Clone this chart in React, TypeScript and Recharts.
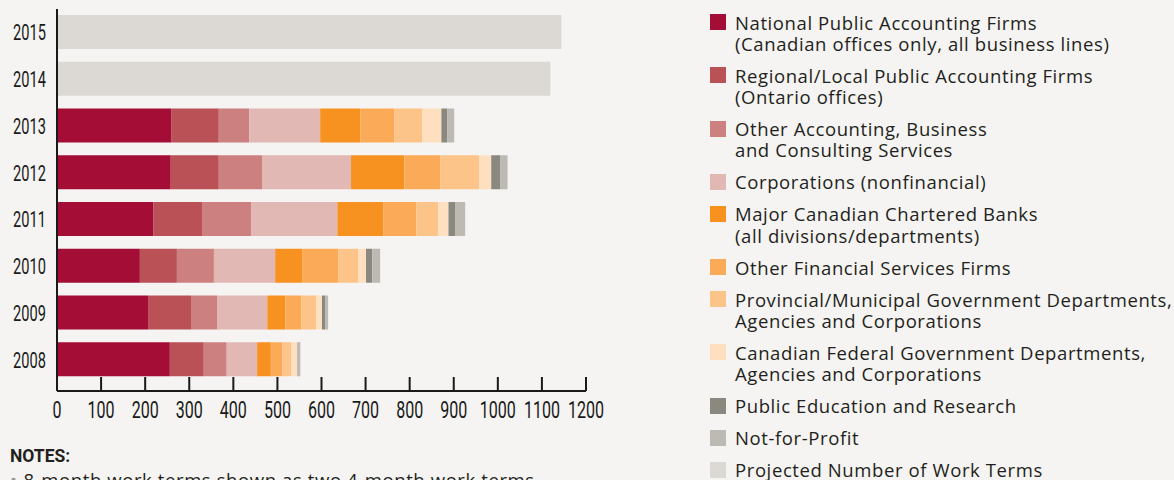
import { Bar, BarChart, XAxis, YAxis } from "recharts";

const years = ["2015", "2014", "2013", "2012", "2011", "2010", "2009", "2008"];
const national = [0, 0, 260, 258, 219, 188, 208, 256];
const regional = [0, 0, 107, 109, 110, 84, 96, 77];
const otherAccounting = [0, 0, 69, 98, 111, 84, 59, 52];
const corporations = [0, 0, 161, 202, 196, 139, 114, 69];
const majorBanks = [0, 0, 91, 121, 104, 61, 41, 31];
const otherFinancial = [0, 0, 77, 82, 75, 82, 36, 26];
const provincial = [0, 0, 64, 88, 50, 46, 34, 20];
const federal = [0, 0, 43, 27, 23, 17, 13, 14];
const publicEd = [0, 0, 13, 21, 16, 14, 7, 1];
const notForProfit = [0, 0, 16, 16, 22, 18, 7, 6];
const projected = [1144, 1119, 0, 0, 0, 0, 0, 0];

const xTicks = [0, 100, 200, 300, 400, 500, 600, 700, 800, 900, 1000, 1100, 1200];

const series = [
  { key: "national", values: national, color: "#a30d36", label: ["National Public Accounting Firms", "(Canadian offices only, all business lines)"] },
  { key: "regional", values: regional, color: "#ba5157", label: ["Regional/Local Public Accounting Firms", "(Ontario offices)"] },
  { key: "otherAccounting", values: otherAccounting, color: "#cc807f", label: ["Other Accounting, Business", "and Consulting Services"] },
  { key: "corporations", values: corporations, color: "#e2b8b4", label: ["Corporations (nonfinancial)"] },
  { key: "majorBanks", values: majorBanks, color: "#f79120", label: ["Major Canadian Chartered Banks", "(all divisions/departments)"] },
  { key: "otherFinancial", values: otherFinancial, color: "#fbab57", label: ["Other Financial Services Firms"] },
  { key: "provincial", values: provincial, color: "#fdc48a", label: ["Provincial/Municipal Government Departments,", "Agencies and Corporations"] },
  { key: "federal", values: federal, color: "#fee0c0", label: ["Canadian Federal Government Departments,", "Agencies and Corporations"] },
  { key: "publicEd", values: publicEd, color: "#8b8880", label: ["Public Education and Research"] },
  { key: "notForProfit", values: notForProfit, color: "#bdbab4", label: ["Not-for-Profit"] },
  { key: "projected", values: projected, color: "#dcd8d4", label: ["Projected Number of Work Terms"] },
];

const data = years.map((year, i) => {
  const row: Record<string, string | number> = { year };
  series.forEach((s) => {
    row[s.key] = s.values[i];
  });
  return row;
});

const ink = "#1a1a1a";
const labelFont = "Roboto";
const textFont = "'Open Sans', sans-serif";

function XTick({ x, y, payload }: any) {
  return (
    <g>
      <line x1={x} x2={x} y1={y - 14} y2={y} stroke={ink} strokeWidth={2} />
      <text
        transform={`translate(${x},${y + 27}) scale(0.65,1)`}
        textAnchor="middle"
        fontSize={24.7}
        fontFamily={labelFont}
        fill={ink}
      >
        {payload.value}
      </text>
    </g>
  );
}

function YTick({ x, y, payload }: any) {
  return (
    <text
      transform={`translate(${x - 11},${y + 8}) scale(0.65,1)`}
      textAnchor="end"
      fontSize={22.5}
      fontFamily={labelFont}
      fill={ink}
    >
      {payload.value}
    </text>
  );
}

function ChartLegend() {
  return (
    <div
      style={{
        position: "absolute",
        left: 710,
        top: 11.6,
        fontFamily: textFont,
        fontSize: 18.5,
        letterSpacing: 0.6,
        lineHeight: "21.3px",
        color: "#231f20",
        whiteSpace: "nowrap",
      }}
    >
      {series.map((s) => (
        <div key={s.key} style={{ display: "flex", marginBottom: 10.7 }}>
          <div
            style={{
              width: 16,
              height: 16,
              background: s.color,
              marginTop: 2.4,
              marginRight: 9,
              flexShrink: 0,
            }}
          />
          <div>
            {s.label.map((line) => (
              <div key={line}>{line}</div>
            ))}
          </div>
        </div>
      ))}
    </div>
  );
}

export default function App() {
  return (
    <div
      style={{
        position: "absolute",
        left: 0,
        top: 0,
        width: 1174,
        height: 480,
        background: "#f5f4f2",
        overflow: "hidden",
      }}
    >
      <div style={{ position: "absolute", left: 0, top: 0 }}>
        <BarChart
          width={630}
          height={440}
          data={data}
          layout="vertical"
          margin={{ top: 9, right: 44, bottom: 9, left: 0 }}
        >
          <XAxis
            type="number"
            domain={[0, 1200]}
            ticks={xTicks}
            interval={0}
            height={40}
            tickSize={0}
            tickMargin={0}
            tickLine={false}
            axisLine={{ stroke: ink, strokeWidth: 2 }}
            tick={<XTick />}
          />
          <YAxis
            type="category"
            dataKey="year"
            width={57}
            tickSize={0}
            tickMargin={0}
            tickLine={false}
            padding={{ top: 0, bottom: 8 }}
            axisLine={{ stroke: ink, strokeWidth: 2 }}
            tick={<YTick />}
          />
          {series.map((s) => (
            <Bar
              key={s.key}
              dataKey={s.key}
              stackId="a"
              fill={s.color}
              barSize={34}
              isAnimationActive={false}
            />
          ))}
        </BarChart>
      </div>
      <ChartLegend />
      <div
        style={{
          position: "absolute",
          left: 10,
          top: 446,
          fontFamily: "Roboto, sans-serif",
          fontWeight: 700,
          fontSize: 17.5,
          color: "#231f20",
        }}
      >
        NOTES:
      </div>
      <div
        style={{
          position: "absolute",
          left: 10,
          top: 467,
          fontFamily: textFont,
          fontSize: 18.5,
          letterSpacing: 0.6,
          color: "#231f20",
          whiteSpace: "nowrap",
        }}
      >
        <span style={{ color: "#9a9794", marginRight: 6 }}>•</span>8-month work terms shown as two 4-month work terms.
      </div>
    </div>
  );
}
